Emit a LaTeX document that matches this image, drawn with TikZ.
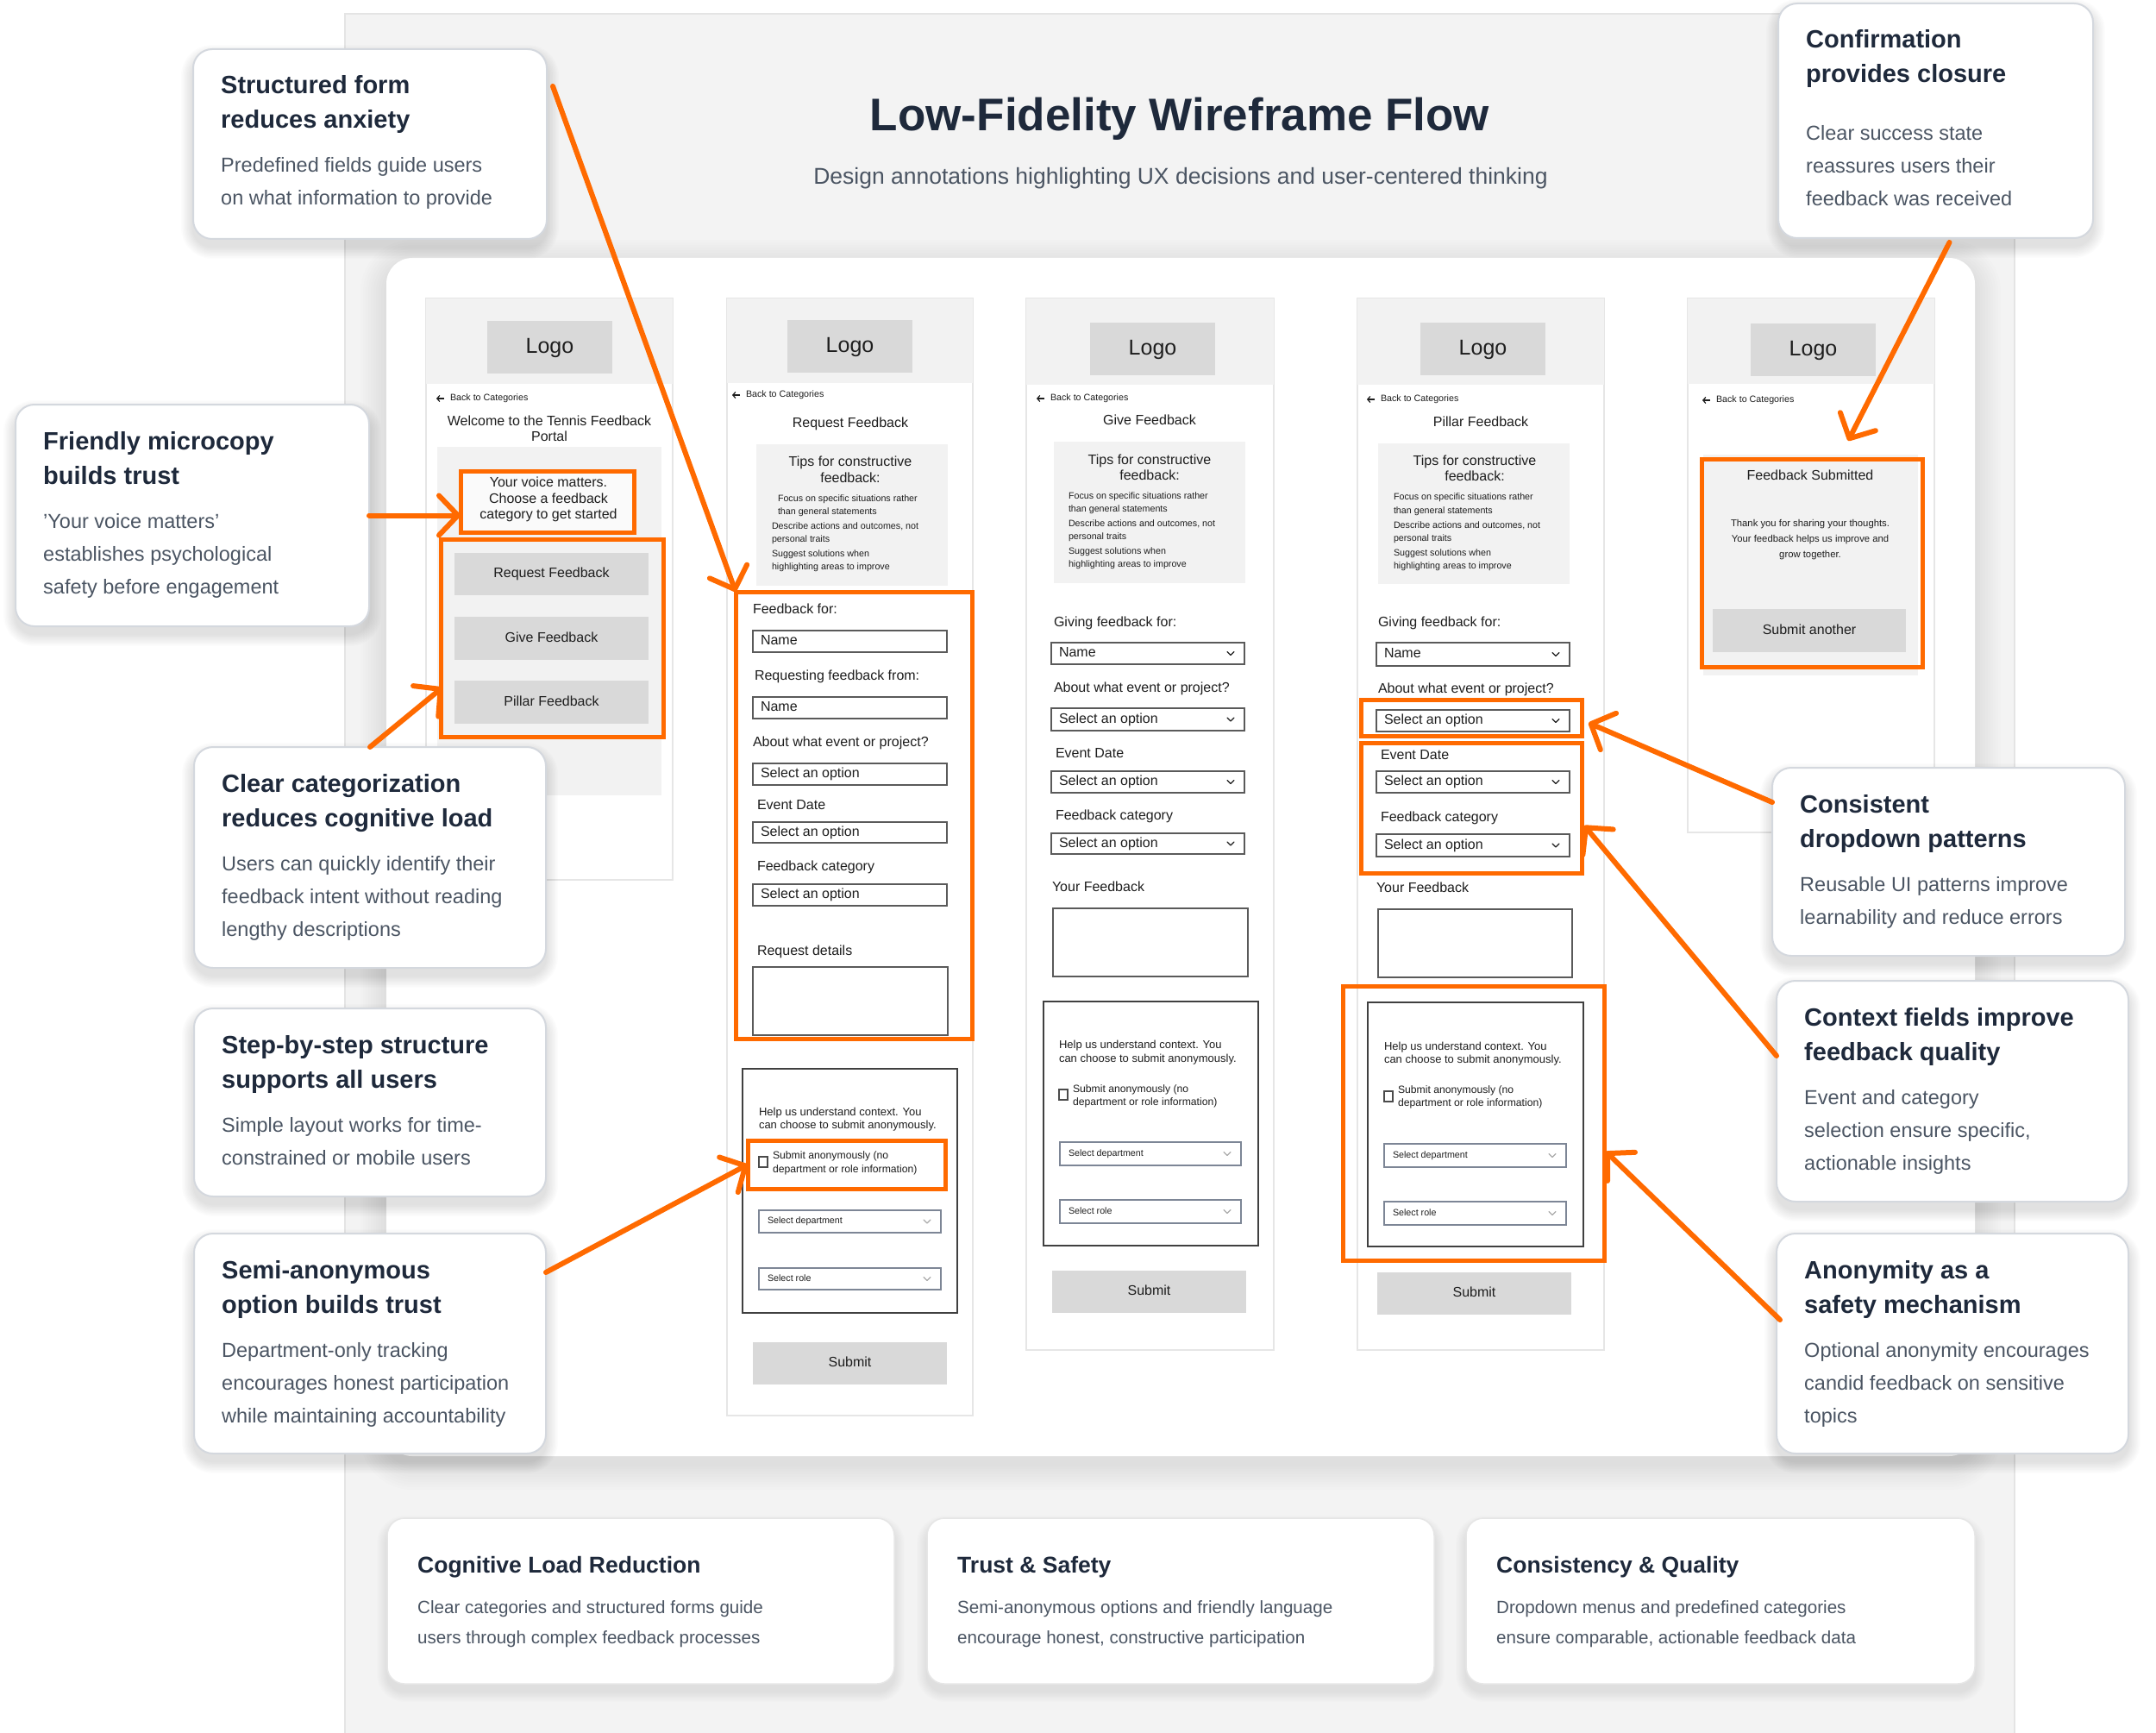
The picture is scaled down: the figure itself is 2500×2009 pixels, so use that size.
\documentclass[tikz,border=0pt]{standalone}
\usepackage{fontspec}
\setmainfont{Liberation Sans}
\usetikzlibrary{arrows.meta,calc}
\definecolor{orng}{RGB}{255,106,0}
\definecolor{panel}{RGB}{243,243,243}
\definecolor{panelb}{RGB}{228,228,228}
\definecolor{hdr}{RGB}{242,242,242}
\definecolor{logoc}{RGB}{217,217,217}
\definecolor{ttl}{RGB}{30,41,59}
\definecolor{bodyc}{RGB}{75,85,99}
\definecolor{abord}{RGB}{212,216,222}
\definecolor{sbord}{RGB}{230,230,230}
\definecolor{inb}{RGB}{90,90,90}
\definecolor{ddb}{RGB}{125,134,150}
\definecolor{txtc}{RGB}{30,30,30}
\definecolor{chevc}{RGB}{170,170,170}

\newcommand\bx[6][]{\node[bxs,#1,minimum width={(#5-#3)*1pt},minimum height={(#6-#4)*1pt}] (#2) at ({(#3+#5)/2},{(#4+#6)/2}) {};}
\newcommand\shadowbox[7]{%
 \foreach \k in {1,...,10}{%
  \pgfmathsetmacro\rr{#5+\k*#7}%
  \fill[black,opacity=#6,rounded corners=\rr pt] ({#1-\k*#7},{#2-\k*#7+9}) rectangle ({#3+\k*#7},{#4+\k*#7+9});
 }}
\newcommand\ann[9]{%
 \shadowbox{#2}{#3}{#4}{#5}{22}{0.013}{1.4}%
 \bx[annbox]{#1}{#2}{#3}{#4}{#5}%
 \node[antitle] (#1t1) at ({#2+32},{#3+52}) {#6};
 \node[antitle] (#1t2) at ({#2+32},{#3+92}) {#7};
 \foreach \l [count=\j] in {#9} {\node[anbody] (#1b\j) at ({#2+32},{#3+#8+(\j-1)*38}) {\l};}
}
\newcommand\bcard[6]{%
 \shadowbox{#2}{1760}{#3}{1952}{20}{0.008}{1.2}%
 \bx[cardbox]{#1}{#2}{1760}{#3}{1952}%
 \node[bctitle] (#1t) at ({#2+35},1823) {#4};
 \node[bcbody] (#1a) at ({#2+35},1870) {#5};
 \node[bcbody] (#1b) at ({#2+35},1905) {#6};
}
\newcommand\btn[6]{\bx[fill=logoc]{#1}{#2}{#3}{#4}{#5}\node[w16,anchor=center] (#1t) at (#1.center) {#6};}
\newcommand\inp[6]{\bx[draw=inb,line width=1.4pt,fill=white]{#1}{#2}{#3}{#4}{#5}\node[w16] (#1t) at ({#2+9},{(#3+#5)/2}) {#6};}
\newcommand\chev[3]{\draw[#3,line width=1.3pt,line cap=round,line join=round] ({#1-4},{#2-2}) -- (#1,{#2+2}) -- ({#1+4},{#2-2});}
\newcommand\dd[6]{\inp{#1}{#2}{#3}{#4}{#5}{#6}\chev{#4-16}{(#3+#5)/2}{txtc}}
\newcommand\cdd[6]{\bx[draw=ddb,line width=1.4pt,fill=white]{#1}{#2}{#3}{#4}{#5}\node[w11] (#1t) at ({#2+10},{(#3+#5)/2}) {#6};\chev{#4-16}{(#3+#5)/2}{chevc}}
\newcommand\backl[3]{\draw[txtc,line width=1.2pt,-{Straight Barb[length=3pt,width=7pt]}] ({#2+9},#3) -- (#2,#3);
 \node[w11] (#1) at ({#2+16},#3) {Back to Categories};}
\newcommand\header[6]{% name x1 x2 logox1 logoy1 y2
 \bx[fill=hdr]{#1h}{#2}{346}{#3}{#6}%
 \bx[fill=logoc]{#1logo}{#4}{#5}{#4+145}{#5+61}%
 \node[w25,anchor=center] (#1logot) at (#1logo.center) {Logo};}

\begin{document}
\begin{tikzpicture}[x=1pt,y=-1pt,
 bxs/.style={rectangle,inner sep=0pt,outer sep=0pt},
 txs/.style={inner sep=0pt,outer sep=0pt,anchor=west,text=txtc},
 w25/.style={txs,font=\fontsize{25}{30}\selectfont,text height=18pt,text depth=5pt},
 w16/.style={txs,font=\fontsize{16}{19}\selectfont,text height=11.5pt,text depth=3.2pt},
 w13/.style={txs,font=\fontsize{13}{16}\selectfont,text height=9.4pt,text depth=2.6pt},
 w12/.style={txs,font=\fontsize{12.2}{15}\selectfont,text height=8.8pt,text depth=2.4pt},
 w11/.style={txs,font=\fontsize{10.7}{13}\selectfont,text height=7.7pt,text depth=2.1pt},
 w113/.style={txs,font=\fontsize{11.3}{14}\selectfont,text height=8.1pt,text depth=2.3pt},
 scr/.style={fill=white,draw=sbord,line width=1.5pt},
 ob/.style={draw=orng,line width=5pt},
 ctx/.style={draw=txtc!85,line width=1.8pt,fill=white},
 cbox/.style={draw=txtc!80,line width=1.2pt,fill=white},
 annbox/.style={rounded corners=22pt,fill=white,draw=abord,line width=2pt},
 cardbox/.style={rounded corners=20pt,fill=white,draw=sbord,line width=1.5pt},
 antitle/.style={anchor=base west,inner sep=0pt,font=\bfseries\fontsize{29}{35}\selectfont,text=ttl},
 anbody/.style={anchor=base west,inner sep=0pt,font=\fontsize{23.5}{28}\selectfont,text=bodyc},
 bctitle/.style={anchor=base west,inner sep=0pt,font=\bfseries\fontsize{26.5}{31}\selectfont,text=ttl},
 bcbody/.style={anchor=base west,inner sep=0pt,font=\fontsize{20.6}{25}\selectfont,text=bodyc},
 oarr/.style={draw=orng,line width=6pt,line cap=round,line join=round,-{Straight Barb[length=22pt,width=46pt,round]}}
]
\useasboundingbox (0,0) rectangle (2500,2009);
\fill[white] (0,0) rectangle (2500,2009);
\bx[fill=panel,draw=panelb,line width=1.2pt]{panel}{400}{16}{2336}{2014}
\node[anchor=base,inner sep=0pt,font=\bfseries\fontsize{53}{60}\selectfont,text=ttl] (title) at (1368,152) {Low-Fidelity Wireframe Flow};
\node[anchor=base,inner sep=0pt,font=\fontsize{26.5}{31}\selectfont,text=bodyc] (subtitle) at (1369,214) {Design annotations highlighting UX decisions and user-centered thinking};

% main card
\shadowbox{448}{299}{2290}{1688}{30}{0.008}{3}
\bx[fill=white,rounded corners=30pt]{card}{448}{299}{2290}{1688}

% ---------- screen 1
\bx[scr]{s1}{494}{346}{780}{1020}
\header{s1}{494}{780}{565}{372}{445}
\backl{s1b}{506}{462}
\node[w16,anchor=center] (s1w1) at (637,489) {Welcome to the Tennis Feedback};
\node[w16,anchor=center] (s1w2) at (637,507) {Portal};
\bx[fill=hdr]{s1c}{507}{518}{767}{922}
\bx[ob,fill=white!60!hdr]{o1a}{534}{546}{735}{617}
\node[w16,anchor=center] (s1v1) at (636,560) {Your voice matters.};
\node[w16,anchor=center] (s1v2) at (636,579) {Choose a feedback};
\node[w16,anchor=center] (s1v3) at (636,597) {category to get started};
\btn{s1r}{527}{641}{752}{690}{Request Feedback}
\btn{s1g}{527}{715}{752}{765}{Give Feedback}
\btn{s1p}{527}{789}{752}{839}{Pillar Feedback}
\bx[ob]{o1b}{511}{625}{769}{854}

% ---------- screen 2
\bx[scr]{s2}{843}{346}{1128}{1641}
\header{s2}{843}{1128}{913}{371}{444}
\backl{s2b}{849}{458}
\node[w16,anchor=center] (s2ti) at (986,491) {Request Feedback};
\bx[fill=hdr]{s2tips}{877}{515}{1099}{679}
\node[w16,anchor=center] (s2th1) at (986,536) {Tips for constructive};
\node[w16,anchor=center] (s2th2) at (986,555) {feedback:};
\node[w11] (s2i1) at (902,579) {Focus on specific situations rather};
\node[w11] (s2i2) at (902,594) {than general statements};
\node[w11] (s2i3) at (895,611) {Describe actions and outcomes, not};
\node[w11] (s2i4) at (895,626) {personal traits};
\node[w11] (s2i5) at (895,643) {Suggest solutions when};
\node[w11] (s2i6) at (895,658) {highlighting areas to improve};
\node[w16] (s2l1) at (873,707) {Feedback for:};
\inp{s2n1}{873}{731}{1098}{756}{Name}
\node[w16] (s2l2) at (875,784) {Requesting feedback from:};
\inp{s2n2}{873}{808}{1098}{833}{Name}
\node[w16] (s2l3) at (873,861) {About what event or project?};
\inp{s2s1}{873}{885}{1098}{910}{Select an option}
\node[w16] (s2l4) at (878,934) {Event Date};
\inp{s2s2}{873}{953}{1098}{977}{Select an option}
\node[w16] (s2l5) at (878,1005) {Feedback category};
\inp{s2s3}{873}{1025}{1098}{1050}{Select an option}
\node[w16] (s2l6) at (878,1103) {Request details};
\bx[draw=inb,line width=1.4pt,fill=white]{s2ta}{873}{1121}{1099}{1200}
\bx[ob]{o2}{853}{686}{1127}{1204}
\bx[ctx]{s2ctx}{861}{1239}{1110}{1522}
\node[w13] (s2h1) at (880,1290) {Help us understand context. You};
\node[w13] (s2h2) at (880,1305) {can choose to submit anonymously.};
\bx[cbox]{s2cb}{880}{1341}{890}{1353}
\node[w12] (s2c1) at (896,1340) {Submit anonymously (no};
\node[w12] (s2c2) at (896,1356) {department or role information)};
\bx[ob]{o2c}{867}{1322}{1096}{1378}
\cdd{s2dep}{880}{1403}{1091}{1429}{Select department}
\cdd{s2rol}{880}{1470}{1091}{1495}{Select role}
\btn{s2sub}{873}{1556}{1098}{1605}{Submit}

% ---------- screen 3
\bx[scr]{s3}{1190}{346}{1477}{1565}
\header{s3}{1190}{1477}{1264}{374}{446}
\backl{s3b}{1202}{462}
\node[w16,anchor=center] (s3ti) at (1333,488) {Give Feedback};
\bx[fill=hdr]{s3tips}{1222}{512}{1444}{676}
\node[w16,anchor=center] (s3th1) at (1333,534) {Tips for constructive};
\node[w16,anchor=center] (s3th2) at (1333,552) {feedback:};
\node[w11] (s3i1) at (1239,576) {Focus on specific situations rather};
\node[w11] (s3i2) at (1239,591) {than general statements};
\node[w11] (s3i3) at (1239,608) {Describe actions and outcomes, not};
\node[w11] (s3i4) at (1239,623) {personal traits};
\node[w11] (s3i5) at (1239,640) {Suggest solutions when};
\node[w11] (s3i6) at (1239,655) {highlighting areas to improve};
\node[w16] (s3l1) at (1222,722) {Giving feedback for:};
\dd{s3n1}{1219}{745}{1443}{770}{Name}
\node[w16] (s3l2) at (1222,798) {About what event or project?};
\dd{s3s1}{1219}{821}{1443}{847}{Select an option}
\node[w16] (s3l3) at (1224,874) {Event Date};
\dd{s3s2}{1219}{894}{1443}{919}{Select an option}
\node[w16] (s3l4) at (1224,946) {Feedback category};
\dd{s3s3}{1219}{966}{1443}{990}{Select an option}
\node[w16] (s3l5) at (1220,1029) {Your Feedback};
\bx[draw=inb,line width=1.4pt,fill=white]{s3ta}{1221}{1053}{1447}{1132}
\bx[ctx]{s3ctx}{1210}{1161}{1459}{1444}
\node[w13] (s3h1) at (1228,1212) {Help us understand context. You};
\node[w13] (s3h2) at (1228,1228) {can choose to submit anonymously.};
\bx[cbox]{s3cb}{1228}{1263}{1238}{1275}
\node[w12] (s3c1) at (1244,1263) {Submit anonymously (no};
\node[w12] (s3c2) at (1244,1278) {department or role information)};
\cdd{s3dep}{1229}{1324}{1439}{1351}{Select department}
\cdd{s3rol}{1229}{1391}{1439}{1418}{Select role}
\btn{s3sub}{1220}{1473}{1445}{1522}{Submit}

% ---------- screen 4
\bx[scr]{s4}{1574}{346}{1860}{1565}
\header{s4}{1574}{1860}{1647}{374}{446}
\backl{s4b}{1585}{463}
\node[w16,anchor=center] (s4ti) at (1717,490) {Pillar Feedback};
\bx[fill=hdr]{s4tips}{1598}{514}{1820}{677}
\node[w16,anchor=center] (s4th1) at (1710,535) {Tips for constructive};
\node[w16,anchor=center] (s4th2) at (1710,553) {feedback:};
\node[w11] (s4i1) at (1616,577) {Focus on specific situations rather};
\node[w11] (s4i2) at (1616,593) {than general statements};
\node[w11] (s4i3) at (1616,610) {Describe actions and outcomes, not};
\node[w11] (s4i4) at (1616,625) {personal traits};
\node[w11] (s4i5) at (1616,642) {Suggest solutions when};
\node[w11] (s4i6) at (1616,657) {highlighting areas to improve};
\node[w16] (s4l1) at (1598,722) {Giving feedback for:};
\dd{s4n1}{1596}{745}{1820}{772}{Name}
\node[w16] (s4l2) at (1598,799) {About what event or project?};
\dd{s4s1}{1596}{823}{1820}{848}{Select an option}
\node[w16] (s4l3) at (1601,876) {Event Date};
\dd{s4s2}{1596}{894}{1820}{919}{Select an option}
\node[w16] (s4l4) at (1601,948) {Feedback category};
\dd{s4s3}{1596}{967}{1820}{993}{Select an option}
\node[w16] (s4l5) at (1596,1030) {Your Feedback};
\bx[draw=inb,line width=1.4pt,fill=white]{s4ta}{1598}{1054}{1823}{1133}
\bx[ctx]{s4ctx}{1586}{1162}{1836}{1445}
\node[w13] (s4h1) at (1605,1214) {Help us understand context. You};
\node[w13] (s4h2) at (1605,1229) {can choose to submit anonymously.};
\bx[cbox]{s4cb}{1605}{1265}{1615}{1277}
\node[w12] (s4c1) at (1621,1264) {Submit anonymously (no};
\node[w12] (s4c2) at (1621,1279) {department or role information)};
\cdd{s4dep}{1605}{1326}{1816}{1353}{Select department}
\cdd{s4rol}{1605}{1393}{1816}{1420}{Select role}
\btn{s4sub}{1597}{1475}{1822}{1524}{Submit}
\bx[ob]{o4a}{1578}{811}{1834}{853}
\bx[ob]{o4b}{1578}{861}{1834}{1012}
\bx[ob]{o4c}{1557}{1143}{1860}{1461}

% ---------- screen 5
\bx[scr]{s5}{1957}{346}{2243}{965}
\header{s5}{1957}{2243}{2030}{375}{445}
\backl{s5b}{1974}{464}
\bx[fill=hdr]{s5c}{1975}{527}{2224}{783}
\node[w16,anchor=center] (s5t) at (2099,552) {Feedback Submitted};
\node[w113,anchor=center] (s5m1) at (2099,608) {Thank you for sharing your thoughts.};
\node[w113,anchor=center] (s5m2) at (2099,626) {Your feedback helps us improve and};
\node[w113,anchor=center] (s5m3) at (2099,644) {grow together.};
\btn{s5sub}{1986}{706}{2210}{756}{Submit another}
\bx[ob]{o5}{1973}{532}{2229}{773}

% ---------- bottom cards
\bcard{bc1}{449}{1037}{Cognitive Load Reduction}{Clear categories and structured forms guide}{users through complex feedback processes}
\bcard{bc2}{1075}{1663}{Trust \& Safety}{Semi-anonymous options and friendly language}{encourage honest, constructive participation}
\bcard{bc3}{1700}{2290}{Consistency \& Quality}{Dropdown menus and predefined categories}{ensure comparable, actionable feedback data}

% ---------- annotations
\ann{ann1}{224}{57}{634}{277}{Structured form}{reduces anxiety}{143}{Predefined fields guide users, on what information to provide}
\ann{ann2}{18}{469}{428}{726}{Friendly microcopy}{builds trust}{143}{'Your voice matters', establishes psychological, safety before engagement}
\ann{ann3}{225}{866}{633}{1122}{Clear categorization}{reduces cognitive load}{143}{Users can quickly identify their, feedback intent without reading, lengthy descriptions}
\ann{ann4}{225}{1169}{633}{1387}{Step-by-step structure}{supports all users}{143}{Simple layout works for time-, constrained or mobile users}
\ann{ann5}{225}{1430}{633}{1685}{Semi-anonymous}{option builds trust}{143}{Department-only tracking, encourages honest participation, while maintaining accountability}
\ann{ann6}{2062}{4}{2427}{276}{Confirmation}{provides closure}{159}{Clear success state, reassures users their, feedback was received}
\ann{ann7}{2055}{890}{2464}{1108}{Consistent}{dropdown patterns}{143}{Reusable UI patterns improve, learnability and reduce errors}
\ann{ann8}{2060}{1137}{2468}{1393}{Context fields improve}{feedback quality}{143}{Event and category, {selection ensure specific,}, actionable insights}
\ann{ann9}{2060}{1430}{2468}{1685}{Anonymity as a}{safety mechanism}{143}{Optional anonymity encourages, candid feedback on sensitive, topics}

% ---------- arrows
\draw[oarr] ([shift={(7,43)}]ann1.north east) -- (o2.north west);
\draw[oarr] (ann2.east) -- (ann2.east -| o1a.west);
\draw[oarr] (ann3.north) -- ([shift={(2,-57)}]o1b.south west);
\draw[oarr] ([shift={(0,45)}]ann5.north east) -- (o2c.west);
\draw[oarr] ([shift={(16,5)}]ann6.south) -- ([shift={(42,-21)}]o5.north);
\draw[oarr] ([shift={(0,40)}]ann7.north west) -- ([shift={(8,6)}]o4a.east);
\draw[oarr] ([shift={(0,87)}]ann8.north west) -- ([shift={(3,-55)}]o4b.south east);
\draw[oarr] ([shift={(4,100)}]ann9.north west) -- ([shift={(2,33)}]o4c.east);
\end{tikzpicture}
\end{document}
